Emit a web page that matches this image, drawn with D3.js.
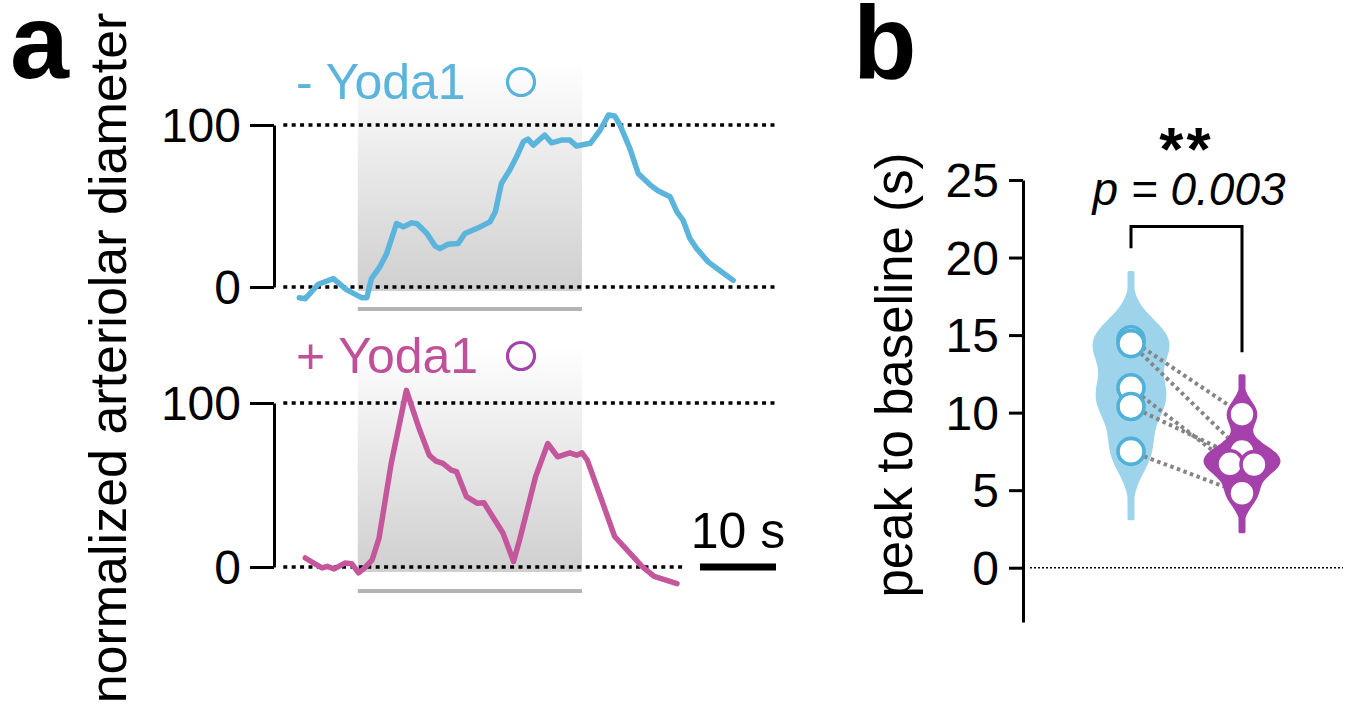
<!DOCTYPE html>
<html>
<head>
<meta charset="utf-8">
<script src="https://cdn.jsdelivr.net/npm/d3@7"></script>
<style>
  html, body { margin: 0; padding: 0; background: #fff; }
  svg { display: block; font-family: "Liberation Sans", Arial, sans-serif; }
</style>
</head>
<body>
<svg id="fig" width="1348" height="708"></svg>
<script>
// ---- data (panel a): time in s, normalized diameter in %
const ctrlTime = [-0.1, 0.7, 2.4, 4.4, 6.1, 8.1, 8.8, 9.4, 10.5, 11.4, 12.7, 13.6, 14.7, 15.4, 16.7, 17.8, 18.4, 19.5, 20.8, 21.7, 23.7, 25.0, 25.7, 26.5, 27.6, 28.5, 29.4, 30.0, 30.7, 32.2, 33.1, 34.4, 35.5, 36.4, 38.2, 39.5, 40.6, 41.4, 42.1, 43.4, 44.5, 46.1, 47.1, 48.7, 49.6, 50.4, 51.3, 52.2, 53.7, 55.5, 57.0];
const ctrlDiam = [-6.6, -7.2, 1.7, 5.2, -1.6, -6.6, -6.6, 5.2, 12.4, 20.6, 39.2, 37.1, 39.6, 39.0, 33.0, 25.2, 23.7, 26.4, 26.8, 33.0, 37.1, 40.2, 46.4, 63.9, 72.2, 80.4, 89.7, 91.3, 87.6, 93.8, 89.0, 90.7, 90.7, 87.0, 88.7, 96.9, 106.2, 105.6, 100.0, 85.6, 70.1, 62.9, 59.4, 55.7, 46.4, 41.2, 29.9, 23.7, 15.5, 9.3, 4.1];
const yodaTime = [0.7, 1.8, 2.9, 3.6, 4.5, 5.9, 6.8, 7.7, 8.4, 9.5, 10.4, 12.0, 14.0, 15.6, 17.0, 17.9, 18.8, 19.9, 20.6, 21.9, 23.3, 24.2, 26.7, 28.1, 28.9, 31.0, 32.6, 33.9, 35.5, 36.4, 37.1, 37.8, 40.0, 41.4, 43.2, 45.0, 46.6, 49.6];
const yodaDiam = [5.5, 2.4, -0.6, 0.4, -1.2, 2.4, 2.0, -3.6, -1.0, 4.4, 17.6, 63.2, 107.7, 85.4, 68.2, 64.6, 63.2, 59.1, 58.1, 42.9, 38.9, 39.2, 20.7, 3.4, 16.6, 55.1, 75.3, 67.2, 69.6, 68.2, 69.6, 65.2, 36.8, 18.6, 9.5, 0.4, -5.7, -10.1];
const stimWindow = [7.6, 37.1];
const diamTicks = [0, 100];

// ---- data (panel b): peak to baseline (s), paired
const groups = ["- Yoda1", "+ Yoda1"];
const ctrlPeak = [14.7, 14.45, 11.6, 10.4, 7.5];
const yodaPeak = [9.9, 7.5, 6.7, 6.65, 4.8];
const peakTicks = [0, 5, 10, 15, 20, 25];
const pText = "p = 0.003";

const BLUE = "#5ab4dc", BLUE_FILL = "#9ed4eb", BLUE_DOT = "#4fb0d8";
const PINK = "#c4569c", PURPLE = "#a541aa";
const FONT = "\"Liberation Sans\", Arial, sans-serif";

const svg = d3.select("#fig");

// gradient for the stimulus shading
const defs = svg.append("defs");
const grad = defs.append("linearGradient").attr("id", "shade").attr("x1", 0).attr("y1", 0).attr("x2", 0).attr("y2", 1);
grad.append("stop").attr("offset", "0%").attr("stop-color", "#ffffff");
grad.append("stop").attr("offset", "100%").attr("stop-color", "#cfcfcf");

// panel letters
svg.append("text").attr("x", 10).attr("y", 78).attr("font-size", 106).attr("font-weight", "bold").text("a");
svg.append("text").attr("x", 853).attr("y", 78).attr("font-size", 104).attr("font-weight", "bold").text("b");

// ---- panel a
const x = d3.scaleLinear().domain([0, 10]).range([300, 376]);

svg.append("text")
  .attr("transform", "translate(126,358) rotate(-90)")
  .attr("text-anchor", "middle").attr("font-size", 52)
  .text("normalized arteriolar diameter");

const traces = [
  { time: ctrlTime, diam: ctrlDiam, color: BLUE, y: d3.scaleLinear().domain([0, 100]).range([287, 125]),
    shadeTop: 62, shadeBot: 291, bar: 309, dotEnd: [62.5, 62.5], label: "- Yoda1", labelColor: BLUE, ring: "#55b3db",
    labelY: 99, ringY: 82 },
  { time: yodaTime, diam: yodaDiam, color: PINK, y: d3.scaleLinear().domain([0, 100]).range([567, 403]),
    shadeTop: 345, shadeBot: 572, bar: 591, dotEnd: [62.5, 50.5], label: "+ Yoda1", labelColor: "#c0509a", ring: PURPLE,
    labelY: 373, ringY: 356 }
];

traces.forEach(t => {
  const g = svg.append("g");
  g.append("rect")
    .attr("x", x(stimWindow[0])).attr("width", x(stimWindow[1]) - x(stimWindow[0]))
    .attr("y", t.shadeTop).attr("height", t.shadeBot - t.shadeTop)
    .attr("fill", "url(#shade)");
  g.append("line")
    .attr("x1", x(stimWindow[0])).attr("x2", x(stimWindow[1]))
    .attr("y1", t.bar).attr("y2", t.bar)
    .attr("stroke", "#b4b4b4").attr("stroke-width", 4);

  // dotted reference lines at 100 and 0
  diamTicks.slice().reverse().forEach((v, i) => {
    g.append("line")
      .attr("x1", x(-2.2)).attr("x2", x(t.dotEnd[i]))
      .attr("y1", t.y(v)).attr("y2", t.y(v))
      .attr("stroke", "#000").attr("stroke-width", 3.6).attr("stroke-dasharray", "4,4.4");
  });

  const axis = d3.axisLeft(t.y).tickValues(diamTicks).tickSize(24).tickSizeOuter(0).tickPadding(9);
  const ag = g.append("g").attr("transform", "translate(274,0)").call(axis);
  ag.select(".domain").attr("stroke-width", 3);
  ag.selectAll(".tick line").attr("stroke-width", 3);
  ag.selectAll(".tick text").attr("font-size", 48).attr("font-family", FONT).attr("fill", "#000").attr("dy", "0.35em");

  const line = d3.line().x((d, i) => x(t.time[i])).y(d => t.y(d));
  g.append("path").datum(t.diam)
    .attr("d", line).attr("fill", "none")
    .attr("stroke", t.color).attr("stroke-width", 5.5)
    .attr("stroke-linejoin", "round").attr("stroke-linecap", "round");

  g.append("text").attr("x", 296).attr("y", t.labelY).attr("font-size", 50)
    .attr("fill", t.labelColor).text(t.label);
  g.append("circle").attr("cx", 521).attr("cy", t.ringY).attr("r", 13.5)
    .attr("fill", "none").attr("stroke", t.ring).attr("stroke-width", 3.2);
});

// scale bar 10 s
svg.append("line").attr("x1", 700).attr("x2", 700 + x(10) - x(0)).attr("y1", 567).attr("y2", 567)
  .attr("stroke", "#000").attr("stroke-width", 7);
svg.append("text").attr("x", 738).attr("y", 548).attr("text-anchor", "middle").attr("font-size", 50).text("10 s");

// ---- panel b
const y = d3.scaleLinear().domain([-3.5, 25]).range([622, 180]);
const xb = d3.scalePoint().domain(groups).range([1131, 1242]);

svg.append("text")
  .attr("transform", "translate(912,375) rotate(-90)")
  .attr("text-anchor", "middle").attr("font-size", 51)
  .text("peak to baseline (s)");

svg.append("line").attr("x1", 1030).attr("x2", 1343).attr("y1", y(0)).attr("y2", y(0))
  .attr("stroke", "#000").attr("stroke-width", 1.6).attr("stroke-dasharray", "2,2");

const yAxis = d3.axisLeft(y).tickValues(peakTicks).tickSize(14).tickSizeOuter(0).tickPadding(10);
const yg = svg.append("g").attr("transform", "translate(1023,0)").call(yAxis);
yg.select(".domain").attr("stroke-width", 3);
yg.selectAll(".tick line").attr("stroke-width", 3);
yg.selectAll(".tick text").attr("font-size", 48).attr("font-family", FONT).attr("fill", "#000").attr("dy", "0.35em");

// gaussian KDE violin
function violin(values, bw, halfW) {
  const lo = d3.min(values) - 3.1 * bw, hi = d3.max(values) + 3.1 * bw;
  const grid = d3.range(lo, hi + 1e-9, (hi - lo) / 120);
  const dens = grid.map(v => [v, d3.sum(values, d => Math.exp(-0.5 * ((v - d) / bw) ** 2))]);
  const w = d3.scaleLinear().domain([0, d3.max(dens, d => d[1])]).range([0, halfW]);
  return { dens, w };
}

function drawViolin(values, bw, cx, fill, halfW) {
  const v = violin(values, bw, halfW);
  const area = d3.area().curve(d3.curveBasis)
    .y(d => y(d[0])).x0(d => cx - Math.max(2, v.w(d[1]))).x1(d => cx + Math.max(2, v.w(d[1])));
  svg.append("path").datum(v.dens).attr("d", area)
    .attr("fill", fill).attr("stroke", fill).attr("stroke-width", 3).attr("stroke-linejoin", "round");
}

// spread points whose values nearly coincide
function dodge(values) {
  return values.map((v, i) => {
    const grp = values.map((u, j) => j).filter(j => Math.abs(values[j] - v) < 0.12);
    if (grp.length < 2) return 0;
    const k = grp.indexOf(i);
    return (k - (grp.length - 1) / 2) * 24;
  });
}

const cx0 = xb(groups[0]), cx1 = xb(groups[1]);
const off0 = dodge(ctrlPeak), off1 = dodge(yodaPeak);

drawViolin(ctrlPeak, 1.4, cx0, BLUE_FILL, 37);

// paired lines
svg.append("g").selectAll("line").data(ctrlPeak).join("line")
  .attr("x1", (d, i) => cx0 + off0[i]).attr("y1", d => y(d))
  .attr("x2", (d, i) => cx1 + off1[i]).attr("y2", (d, i) => y(yodaPeak[i]))
  .attr("stroke", "#858585").attr("stroke-width", 4).attr("stroke-dasharray", "3.5,3.5");

drawViolin(yodaPeak, 0.8, cx1, PURPLE, 37);

svg.append("g").selectAll("circle").data(ctrlPeak).join("circle")
  .attr("cx", (d, i) => cx0 + off0[i]).attr("cy", d => y(d)).attr("r", 13)
  .attr("fill", "#fff").attr("stroke", BLUE_DOT).attr("stroke-width", 3.6);
svg.append("g").selectAll("circle").data(yodaPeak).join("circle")
  .attr("cx", (d, i) => cx1 + off1[i]).attr("cy", d => y(d)).attr("r", 13)
  .attr("fill", "#fff").attr("stroke", PURPLE).attr("stroke-width", 3.6);

// significance bracket
svg.append("path")
  .attr("d", `M${cx0},${y(20.6)}V${y(22)}H${cx1}V${y(13.9)}`)
  .attr("fill", "none").attr("stroke", "#000").attr("stroke-width", 3);
svg.append("text").attr("x", (cx0 + cx1) / 2).attr("y", 170).attr("text-anchor", "middle")
  .attr("font-size", 62).attr("font-weight", "bold").attr("letter-spacing", 3).text("**");
svg.append("text").attr("x", 1189).attr("y", 205).attr("text-anchor", "middle")
  .attr("font-size", 46).attr("font-style", "italic").text(pText);
</script>
</body>
</html>
